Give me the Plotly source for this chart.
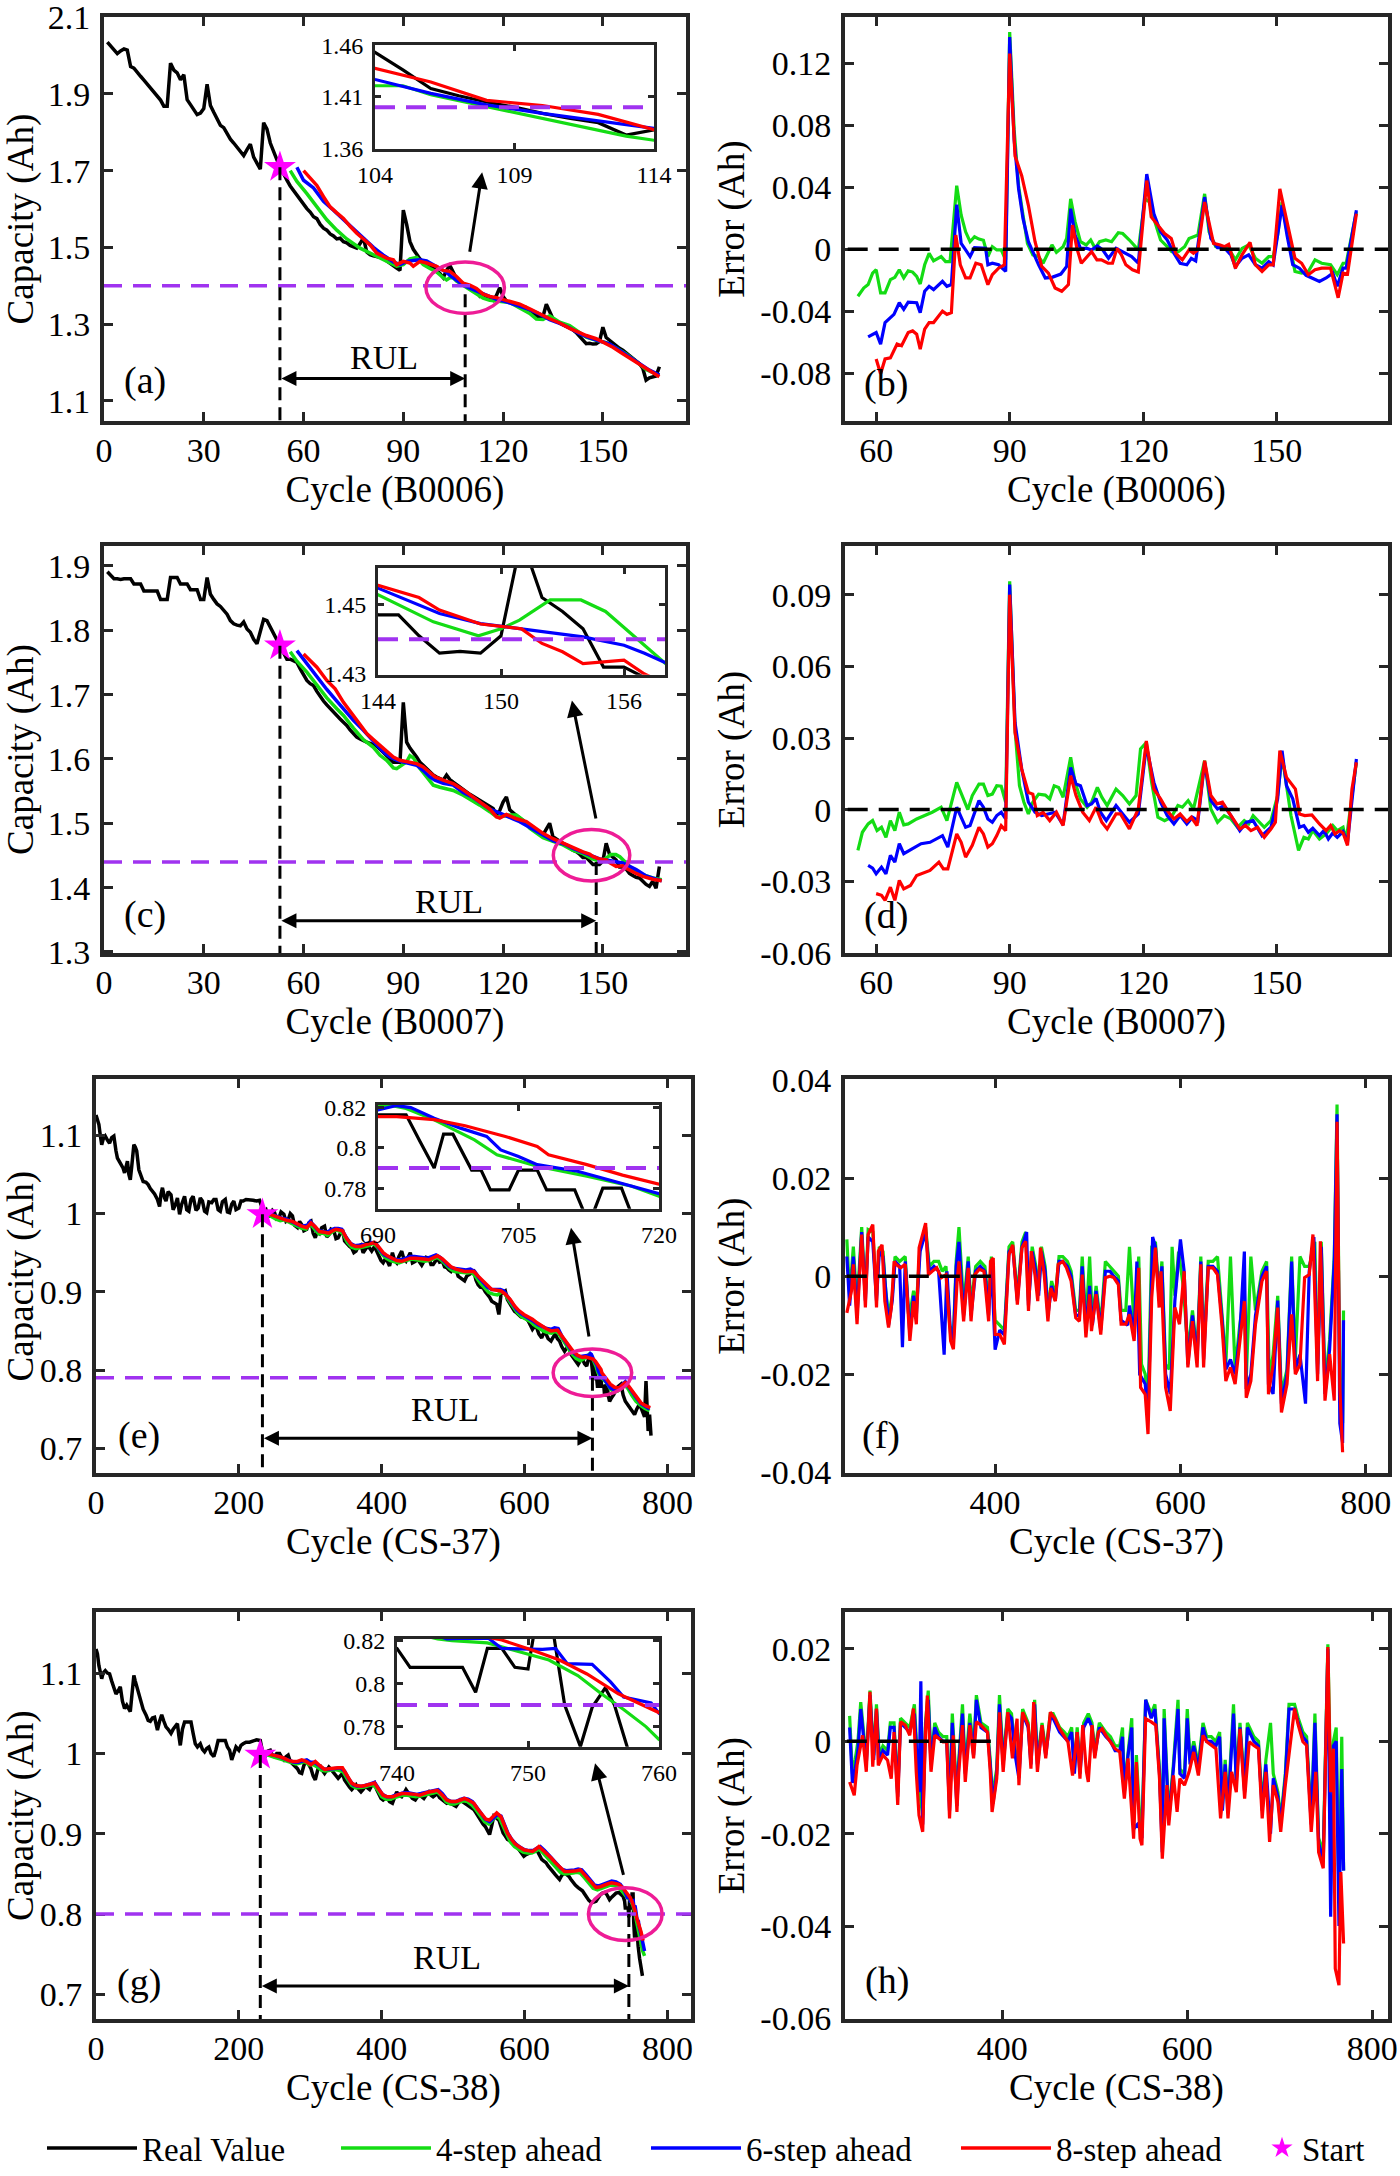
import plotly.graph_objects as go

FONT = "Liberation Serif"
C_REAL = "#000000"
C_G4 = "#14DC14"
C_B6 = "#0000FF"
C_R8 = "#FF0000"
C_STAR = "#FF00FF"
C_THR = "#A033F0"
C_ELL = "#EE1C96"
C_AX = "#262626"

# ---------------- B0006 (panel a / b) ----------------
A_REAL_X = list(range(1, 168))
A_REAL_Y = [2.035, 2.025, 2.018, 2.005, 2.012, 2.017, 2.014, 1.971, 1.967, 1.958,
            1.946, 1.936, 1.925, 1.915, 1.905, 1.895, 1.884, 1.868, 1.868, 1.980,
            1.962, 1.955, 1.937, 1.950, 1.885, 1.872, 1.860, 1.846, 1.850, 1.862,
            1.925, 1.870, 1.852, 1.835, 1.818, 1.812, 1.795, 1.782, 1.772, 1.762,
            1.750, 1.739, 1.755, 1.769, 1.735, 1.718, 1.704, 1.825, 1.808, 1.772,
            1.748, 1.728, 1.709, 1.690, 1.675, 1.660, 1.648, 1.636, 1.625, 1.610,
            1.601, 1.592, 1.580, 1.575, 1.560, 1.550, 1.545, 1.535, 1.530, 1.522,
            1.524, 1.515, 1.512, 1.505, 1.502, 1.498, 1.510, 1.525, 1.488, 1.481,
            1.478, 1.476, 1.474, 1.472, 1.465, 1.458, 1.452, 1.446, 1.440, 1.597,
            1.560, 1.515, 1.495, 1.481, 1.470, 1.460, 1.455, 1.450, 1.446, 1.440,
            1.432, 1.421, 1.440, 1.453, 1.436, 1.418, 1.411, 1.405, 1.400, 1.394,
            1.389, 1.385, 1.373, 1.378, 1.372, 1.365, 1.362, 1.375, 1.395, 1.372,
            1.360, 1.357, 1.355, 1.352, 1.348, 1.345, 1.343, 1.335, 1.328, 1.322,
            1.318, 1.320, 1.352, 1.335, 1.314, 1.308, 1.303, 1.298, 1.294, 1.292,
            1.285, 1.278, 1.268, 1.258, 1.249, 1.250, 1.248, 1.249, 1.255, 1.292,
            1.265, 1.258, 1.250, 1.243, 1.237, 1.232, 1.225, 1.216, 1.210, 1.203,
            1.197, 1.185, 1.154, 1.160, 1.163, 1.165, 1.189]
A_G4_X = [56, 58, 61, 64, 67, 70, 73, 77, 80, 83, 86, 88, 90, 92, 94, 96, 98, 100, 102, 103,
          104, 105, 106, 108, 110, 112, 113, 114, 116, 118, 120, 122, 125, 128, 130, 132, 134,
          137, 140, 143, 145, 148, 151, 154, 157, 160, 163, 166, 167]
A_G4_Y = [1.700, 1.672, 1.640, 1.605, 1.572, 1.545, 1.522, 1.498, 1.485, 1.471, 1.460, 1.451,
          1.455, 1.470, 1.474, 1.455, 1.445, 1.436, 1.421, 1.415, 1.4207, 1.4207, 1.412, 1.4006,
          1.3897, 1.378, 1.372, 1.368, 1.362, 1.3605, 1.358, 1.3562, 1.342, 1.328, 1.313, 1.312,
          1.3218, 1.305, 1.296, 1.278, 1.266, 1.258, 1.252, 1.238, 1.222, 1.203, 1.182, 1.170, 1.167]
A_B6_X = [58, 60, 63, 66, 69, 72, 75, 78, 81, 84, 87, 89, 91, 93, 95, 97, 99, 101, 103, 104,
          106, 108, 110, 112, 114, 116, 118, 121, 125, 128, 131, 134, 137, 140, 143, 146, 149,
          152, 155, 158, 161, 164, 167]
A_B6_Y = [1.7088, 1.675, 1.655, 1.620, 1.597, 1.572, 1.547, 1.522, 1.500, 1.480, 1.462, 1.4551,
          1.4637, 1.466, 1.468, 1.465, 1.455, 1.4465, 1.435, 1.4268, 1.4133, 1.4022, 1.394,
          1.3862, 1.378, 1.372, 1.3648, 1.358, 1.3476, 1.338, 1.3261, 1.312, 1.302, 1.290, 1.275,
          1.264, 1.256, 1.2487, 1.232, 1.2143, 1.196, 1.180, 1.167]
A_R8_X = [60, 62, 64, 66, 68, 70, 72, 74, 76, 78, 80, 82, 83, 85, 87, 88, 90, 92, 93, 95, 97,
          99, 100, 102, 104, 106, 108, 110, 112, 114, 116, 118, 121, 125, 128, 131, 134, 137,
          140, 143, 145, 148, 150, 153, 156, 159, 162, 165, 167]
A_R8_Y = [1.7002, 1.680, 1.6615, 1.632, 1.6056, 1.590, 1.5755, 1.555, 1.5368, 1.522, 1.5067,
          1.485, 1.481, 1.472, 1.468, 1.4551, 1.4637, 1.4594, 1.4508, 1.4637, 1.4594, 1.455,
          1.4508, 1.440, 1.4375, 1.4243, 1.4066, 1.4016, 1.393, 1.3783, 1.372, 1.3691, 1.362,
          1.3519, 1.340, 1.3261, 1.314, 1.303, 1.289, 1.278, 1.2703, 1.262, 1.253, 1.240, 1.223,
          1.206, 1.190, 1.172, 1.163]

B_G4_X = [55.9, 57.2, 58.2, 59.2, 60, 61, 62, 63.2, 64.2, 65.2, 66.2, 67.2, 68.2, 69.1, 69.9,
          70.9, 71.9, 72.9, 74.6, 75.6, 76.6, 78.1, 79.1, 80.1, 81.1, 82.1, 83.1, 84.1, 85.1,
          86.1, 87.1, 88.1, 89.1, 90, 91, 92, 93, 94, 95.2, 96.5, 97.5, 98.5, 99.5, 100.5, 102,
          102.8, 103.7, 104.7, 105.9, 107.2, 108.2, 109.2, 110.2, 111.6, 112.9, 114.4, 115.4,
          116.9, 118.9, 120.4, 121.4, 122.4, 123.9, 125.4, 126.4, 127.9, 129.3, 130.3, 131.3,
          132.3, 133.8, 134.8, 136.3, 137.8, 139.2, 140.7, 142.2, 143.7, 145.2, 146.7, 148.2,
          149.2, 150.2, 151.2, 152.2, 153.2, 154.1, 155.6, 157.1, 158.6, 160.1, 162.1, 163.6,
          164.9, 165.6, 167.9]
B_G4_Y = [-0.0303, -0.025, -0.0228, -0.0154, -0.0132, -0.0281, -0.0281, -0.0196, -0.0181,
          -0.0132, -0.0185, -0.0139, -0.0147, -0.0175, -0.0224, -0.01, -0.0026, -0.0075, -0.0047,
          -0.0079, -0.0079, 0.0411, 0.022, 0.0113, 0.0049, 0.0081, 0.0066, 0.0058, -0.0047,
          0.0017, -0.0004, -0.0004, -0.0068, 0.1403, 0.0774, 0.0411, 0.022, 0.0038, -0.0036,
          -0.0047, -0.009, -0.0036, 0.0028, -0.0019, 0.0017, 0.007, 0.0326, 0.0177, 0.0049,
          0.0028, 0.006, 0.0006, 0.0049, 0.006, 0.0049, 0.0107, 0.0102, 0.006, -0.0004, 0.0326,
          0.0305, 0.0198, 0.006, 0.0017, -0.0015, -0.0015, 0.0017, 0.007, 0.0081, 0.0092, 0.0358,
          0.0113, 0.0017, 0.0006, 0.0006, -0.0068, 0.0006, 0.0028, -0.0058, -0.009, -0.0047,
          -0.0047, 0.0092, 0.0305, 0.0134, -0.0015, -0.0143, -0.0154, -0.0143, -0.0068, -0.009,
          -0.01, -0.0164, -0.009, -0.009, 0.0241]
B_B6_X = [58.2, 60, 61, 62, 64, 65.2, 66.2, 67.2, 69.1, 69.9, 70.9, 71.9, 72.9, 74.9, 75.9, 76.9,
          78.1, 79.1, 80.1, 81.1, 82.1, 83.6, 84.6, 85.1, 86.1, 87.5, 89.1, 90, 91, 92, 93, 94.2,
          95.5, 96.5, 98, 99.5, 101.5, 102.8, 103.7, 104.7, 105.9, 107.4, 108.4, 109.7, 110.9,
          112.2, 113.9, 115.4, 117.4, 118.9, 120.8, 122.4, 123.9, 125.4, 126.9, 128.3, 129.8,
          130.8, 131.8, 133.8, 135.2, 136.7, 138.2, 139.7, 140.7, 142.2, 143.7, 145.2, 146.7,
          148.2, 149.2, 151.2, 152.3, 153.6, 155.1, 156.6, 158.1, 159.6, 161.1, 162.6, 163.6,
          164.9, 165.6, 167.9]
B_B6_Y = [-0.0565, -0.0537, -0.0612, -0.0473, -0.042, -0.0345, -0.0388, -0.0341, -0.0345,
          -0.0409, -0.0271, -0.0239, -0.026, -0.0207, -0.0239, -0.0228, 0.0288, 0.0038, -0.0004,
          -0.0047, 0.0011, 0.0011, 0.0006, -0.01, -0.009, -0.01, -0.0143, 0.1371, 0.071, 0.039,
          0.0198, 0.0049, -0.0036, -0.01, -0.0185, -0.0181, -0.016, -0.0111, 0.0262, 0.0092,
          0.0006, 0.0006, -0.0004, 0.0021, -0.0004, -0.0058, 0.0006, -0.0015, -0.0047, -0.009,
          0.0486, 0.023, 0.0113, 0.006, -0.0026, -0.009, -0.01, -0.0058, -0.0075, 0.0337, 0.007,
          0.0011, 0.0011, -0.0036, -0.0111, -0.0058, -0.0036, -0.01, -0.0122, -0.0079, -0.01,
          0.0284, 0.0092, -0.01, -0.0122, -0.0168, -0.0185, -0.0207, -0.0185, -0.0154, -0.0239,
          -0.0122, -0.0122, 0.0252]
B_R8_X = [60, 61, 62, 63.2, 64.7, 65.7, 67.2, 68.2, 69.1, 69.9, 70.9, 71.9, 72.9, 74.9, 75.9,
          76.9, 77.9, 78.9, 80.1, 81.1, 82.4, 83.6, 85.1, 86.1, 87.5, 88.8, 90, 91.2, 92.7, 94.2,
          95.7, 97.2, 98.7, 100.2, 101.7, 103.2, 104.1, 105.1, 106.1, 107.1, 108.4, 109.6, 110.6,
          112.1, 113.1, 114.1, 115.1, 116.1, 117.6, 118.9, 120.8, 121.8, 123.3, 124.8, 126.3,
          127.3, 128.8, 130.3, 131.3, 132.3, 133.8, 135.8, 137.3, 138.3, 139.2, 140.7, 142.2, 144,
          145.2, 146.7, 148.2, 149.2, 150.7, 152.2, 153.2, 154.1, 155.6, 157.1, 158.6, 160.1,
          162.1, 163.8, 164.9, 165.9, 167.9]
B_R8_Y = [-0.0708, -0.0804, -0.0708, -0.0701, -0.0612, -0.0623, -0.0537, -0.0527, -0.0548,
          -0.0644, -0.0516, -0.0473, -0.0473, -0.0399, -0.042, -0.0409, 0.0092, -0.01, -0.0185,
          -0.0185, -0.009, -0.01, -0.0228, -0.0164, -0.0122, -0.01, 0.1264, 0.0603, 0.0475,
          0.0284, 0.0049, -0.0111, -0.0154, -0.025, -0.0271, -0.0228, 0.0156, 0.0006, -0.009,
          -0.0058, -0.0015, -0.0068, -0.0068, -0.009, -0.009, 0.0006, -0.0036, -0.01, -0.0132,
          -0.0147, 0.0444, 0.0209, 0.0156, 0.0102, 0.007, -0.0026, -0.0068, -0.0004, -0.0026,
          -0.0004, 0.0305, 0.0038, 0.0028, 0.0017, 0.0032, -0.0122, -0.0036, 0.0045, -0.01,
          -0.0143, -0.01, -0.01, 0.039, 0.0188, 0.007, -0.0058, -0.009, -0.0164, -0.0132, -0.0122,
          -0.0122, -0.0313, -0.0154, -0.016, 0.023]

# ---------------- B0007 (panel c / d) ----------------
C_REAL_X = list(range(1, 168))
C_REAL_Y = [1.891, 1.885, 1.880, 1.880, 1.879, 1.880, 1.880, 1.880, 1.872, 1.872,
            1.872, 1.861, 1.861, 1.861, 1.861, 1.861, 1.848, 1.848, 1.848, 1.882,
            1.882, 1.882, 1.872, 1.872, 1.872, 1.863, 1.863, 1.863, 1.848, 1.848,
            1.882, 1.856, 1.848, 1.841, 1.837, 1.830, 1.825, 1.815, 1.810, 1.808,
            1.807, 1.813, 1.802, 1.797, 1.786, 1.779, 1.800, 1.817, 1.815, 1.805,
            1.794, 1.785, 1.774, 1.765, 1.755, 1.755, 1.752, 1.750, 1.740, 1.730,
            1.722, 1.717, 1.714, 1.705, 1.697, 1.690, 1.684, 1.678, 1.672, 1.668,
            1.662, 1.657, 1.652, 1.645, 1.640, 1.634, 1.631, 1.628, 1.626, 1.624,
            1.622, 1.620, 1.615, 1.610, 1.605, 1.600, 1.595, 1.595, 1.595, 1.688,
            1.626, 1.617, 1.611, 1.603, 1.595, 1.590, 1.585, 1.580, 1.575, 1.572,
            1.570, 1.567, 1.575, 1.568, 1.564, 1.560, 1.556, 1.552, 1.549, 1.545,
            1.542, 1.539, 1.536, 1.533, 1.530, 1.526, 1.523, 1.513, 1.520, 1.533,
            1.541, 1.521, 1.516, 1.512, 1.508, 1.504, 1.500, 1.496, 1.492, 1.489,
            1.485, 1.482, 1.490, 1.500, 1.479, 1.475, 1.472, 1.469, 1.466, 1.462,
            1.458, 1.456, 1.452, 1.447, 1.447, 1.441, 1.436, 1.4365, 1.436, 1.441,
            1.469, 1.452, 1.448, 1.443, 1.432, 1.432, 1.429, 1.422, 1.419, 1.416,
            1.415, 1.410, 1.405, 1.402, 1.410, 1.399, 1.433]
C_G4_X = [56, 58, 61, 64, 67, 70, 72, 75, 78, 81, 83, 85, 87, 88, 89, 91, 92, 93, 95, 97, 99,
          101, 103, 105, 108, 111, 113, 116, 118, 120, 122, 124, 126, 128, 130, 132, 135, 138,
          141, 144, 146.7, 148.9, 150, 150.9, 152.4, 153.9, 155.1, 156.9, 159, 162, 165, 167.7]
C_G4_Y = [1.7668, 1.752, 1.735, 1.7141, 1.695, 1.678, 1.6677, 1.648, 1.630, 1.618, 1.6057,
          1.598, 1.586, 1.585, 1.589, 1.5954, 1.605, 1.602, 1.585, 1.572, 1.5593, 1.556, 1.5541,
          1.551, 1.5437, 1.535, 1.5282, 1.518, 1.5102, 1.511, 1.5128, 1.5128, 1.505, 1.4922,
          1.485, 1.4777, 1.472, 1.4664, 1.458, 1.4528, 1.445, 1.441, 1.443, 1.4455, 1.4513,
          1.4513, 1.448, 1.4388, 1.428, 1.420, 1.415, 1.4122]
C_B6_X = [58, 61, 64, 67, 70, 72, 75, 78, 81, 84, 86, 88, 90, 92, 94, 96, 98, 99.5, 102, 105,
          108, 111, 114, 116, 118, 121, 123, 125, 128, 130, 132, 135, 139, 141, 144, 147, 149, 151,
          154, 156, 157, 160, 163, 166, 167.7]
C_B6_Y = [1.7684, 1.748, 1.7296, 1.708, 1.690, 1.678, 1.660, 1.6444, 1.628, 1.6109, 1.603,
          1.598, 1.595, 1.592, 1.5903, 1.582, 1.572, 1.567, 1.562, 1.5593, 1.548, 1.540, 1.530,
          1.522, 1.518, 1.512, 1.507, 1.5025, 1.493, 1.487, 1.4818, 1.473, 1.4664, 1.461, 1.4547,
          1.4474, 1.4445, 1.443, 1.4407, 1.4383, 1.436, 1.428, 1.418, 1.413, 1.4106]
C_R8_X = [60, 62, 64, 67, 69.5, 72, 75, 77, 79, 81, 83, 85, 87, 89, 91, 93, 94, 96, 98, 99.5,
          102, 105, 108, 111, 114, 116, 118, 119, 121, 124, 127, 130, 132, 135, 139, 142, 144, 146,
          147, 149, 151, 152, 153, 154, 156, 157, 160, 162, 165, 167.7]
C_R8_Y = [1.7632, 1.752, 1.7425, 1.722, 1.709, 1.688, 1.6677, 1.652, 1.6393, 1.630, 1.6212,
          1.612, 1.603, 1.598, 1.5954, 1.594, 1.5928, 1.5877, 1.578, 1.5722, 1.567, 1.5618, 1.552,
          1.5412, 1.530, 1.522, 1.5102, 1.508, 1.5138, 1.507, 1.5025, 1.492, 1.4844, 1.476,
          1.4664, 1.459, 1.4555, 1.452, 1.4484, 1.4444, 1.443, 1.4388, 1.4364, 1.433, 1.434,
          1.430, 1.422, 1.4174, 1.413, 1.4106]

D_G4_X = [55.9, 56.9, 58.2, 59.2, 60.2, 61.2, 62.2, 63.2, 64.2, 65.2, 66.2, 67.2, 69.1, 71.1,
          72.6, 74.6, 75.9, 78.1, 79.6, 80.6, 81.6, 83.1, 84.1, 85.1, 86.1, 87.1, 88.1, 89.1, 90,
          91.2, 92.2, 93.2, 94.2, 95.2, 96.5, 98, 99, 100, 101, 102, 103.7, 104.7, 105.9, 107.4,
          108.4, 109.7, 110.7, 111.9, 113.9, 115.4, 116.9, 118.4, 119.4, 120.7, 121.9, 123.3,
          124.8, 126.3, 127.8, 128.8, 130.1, 131.3, 133.8, 135.2, 136.7, 138.2, 139.7, 141.2,
          142.7, 143.7, 144.7, 145.7, 147.2, 148.7, 150.2, 151.2, 153.2, 154.9, 156.1, 157.1,
          158.1, 159.6, 161.1, 162.6, 163.6, 164.9, 165.6, 167.9]
D_G4_Y = [-0.0171, -0.0095, -0.006, -0.0046, -0.0088, -0.0074, -0.0116, -0.0046, -0.0088,
          -0.0011, -0.0064, -0.006, -0.0039, -0.0022, -0.0011, 0.001, -0.0046, 0.0114, 0.0045,
          0.0, 0.0059, 0.0107, 0.0107, 0.0059, 0.0065, 0.01, 0.0098, 0.0031, 0.0957, 0.0337, 0.01,
          0.0031, -0.0018, 0.0031, 0.0065, 0.0061, 0.0045, 0.01, 0.0093, 0.0052, 0.0219, 0.0114,
          0.0045, 0.001, 0.0031, 0.0093, 0.0052, 0.0017, 0.0086, 0.0059, 0.0024, 0.0059, 0.0254,
          0.0281, 0.0114, -0.0032, -0.0046, -0.0032, 0.0017, 0.001, 0.0038, 0.0003, 0.0205,
          0.0003, -0.0053, -0.0025, -0.0039, -0.0074, -0.0046, -0.006, -0.0025, -0.0046, -0.0074,
          -0.0046, 0.0059, 0.0226, -0.0025, -0.0171, -0.0116, -0.0123, -0.0088, -0.0123, -0.0102,
          -0.0067, -0.0088, -0.0074, -0.013, 0.0198]
D_B6_X = [58.2, 59.2, 60, 61.2, 62.2, 63.2, 64.2, 65.2, 66.2, 68.2, 70.1, 72.1, 73.6, 74.9,
          76.1, 78.1, 80.1, 81.1, 83.1, 84.1, 85.1, 86.1, 87.1, 88.1, 89.1, 90, 91.2, 92.7, 94.2,
          95.7, 97.2, 98.7, 100.2, 102, 103.7, 104.9, 105.9, 107.4, 108.4, 109.4, 110.4, 111.7,
          113.9, 115.4, 116.9, 118.9, 120.7, 122.4, 123.9, 125.4, 126.9, 128.3, 129.8, 131.1,
          132.3, 133.8, 135.2, 136.7, 138.2, 139.7, 141.7, 143.2, 144.7, 146.7, 148.7, 150.2,
          151.2, 152.2, 153.6, 155.1, 156.1, 157.1, 158.1, 159.6, 160.6, 161.6, 162.6, 163.6,
          164.9, 165.9, 167.9]
D_B6_Y = [-0.0234, -0.0245, -0.0269, -0.0241, -0.0269, -0.0192, -0.022, -0.0143, -0.0185,
          -0.0164, -0.0143, -0.0137, -0.0123, -0.0109, -0.0157, 0.001, -0.0074, -0.0067, 0.0038,
          0.001, -0.0039, -0.0053, -0.0025, -0.0011, -0.0039, 0.0943, 0.0365, 0.017, 0.0031,
          -0.0011, -0.0025, -0.0018, -0.0011, -0.0064, 0.0177, 0.0107, 0.01, 0.0017, 0.0024,
          0.0047, -0.0011, -0.0046, 0.0017, -0.0018, -0.0053, -0.0018, 0.0267, 0.0114, 0.0031,
          -0.0025, -0.006, -0.0025, -0.006, -0.0032, -0.0046, 0.0198, 0.0038, 0.0003, 0.0017,
          -0.0025, -0.0088, -0.0053, -0.0046, -0.0109, -0.0074, 0.0045, 0.0247, 0.01, 0.0045,
          -0.0074, -0.0067, -0.0095, -0.0078, -0.0109, -0.0088, -0.0123, -0.0098, -0.0116,
          -0.0092, -0.0137, 0.0212]
D_R8_X = [60, 61.2, 62, 63.2, 64.2, 65.2, 66.2, 67.7, 69.1, 70.6, 72.1, 74.1, 75.1, 76.1, 78.1,
          79.1, 80.1, 81.6, 83.1, 84.1, 85.1, 86.1, 87.1, 88.1, 89.1, 90, 91.2, 92.7, 94.2, 95.2,
          96.2, 97.5, 99, 100.5, 102, 103.7, 104.9, 106.4, 107.9, 109.4, 110.7, 111.9, 113.9,
          114.9, 115.9, 116.9, 118.9, 120.7, 122.4, 123.9, 125.4, 126.9, 128.3, 129.8, 130.8,
          132.1, 133.8, 135.2, 136.6, 137.8, 139.2, 141.7, 143, 144.2, 145.7, 147.2, 148.7, 149.7,
          150.7, 152.2, 154.2, 155.1, 156.3, 157.9, 159.6, 161.1, 162.1, 163.1, 164.1, 164.9,
          165.9, 166.9, 167.9]
D_R8_Y = [-0.0352, -0.0359, -0.038, -0.0325, -0.038, -0.0297, -0.0332, -0.0318, -0.0276,
          -0.0265, -0.0255, -0.022, -0.0248, -0.0248, -0.0102, -0.0137, -0.0199, -0.015, -0.0074,
          -0.0102, -0.0157, -0.0143, -0.0109, -0.0067, -0.0088, 0.0901, 0.0323, 0.017, 0.0072,
          0.0065, -0.0025, -0.0011, -0.0046, -0.0011, -0.0067, 0.0142, 0.0059, -0.0011, -0.0046,
          0.001, -0.0053, -0.0081, -0.0018, -0.0018, -0.0053, -0.0081, 0.0003, 0.0288, 0.0086,
          0.0045, -0.0004, -0.0039, -0.0018, -0.005, -0.0032, -0.0067, 0.0205, 0.0059, 0.0024,
          0.0031, -0.0011, -0.0081, -0.0067, -0.0088, -0.0074, -0.0116, -0.0081, -0.0053, 0.0247,
          0.0135, 0.0086, -0.0018, -0.0025, -0.0022, -0.006, -0.0088, -0.0067, -0.0102, -0.0088,
          -0.0098, -0.015, 0.0086, 0.0198]

# ---------------- CS-37 (panel e / f) ----------------
E_REAL_X = [0, 2, 4, 6, 8, 10, 13, 16, 19, 22, 25, 28, 30, 33, 35, 38, 40, 42, 44, 46, 48, 50,
            53, 55, 57, 60, 63, 66, 70, 73, 76, 79, 82, 86, 89, 91, 93, 96, 98, 101, 105, 108,
            111, 114, 117, 120, 124, 127, 130, 133, 136, 140, 143, 146, 149, 152, 155, 158, 162,
            165, 168, 171, 174, 177, 181, 184, 187, 190, 193, 196, 200, 203, 206, 210, 215, 220,
            225, 229, 232, 235, 238, 241, 244, 247, 250, 253, 256, 259, 263, 266, 269, 272, 275,
            278, 282, 285, 288, 291, 295, 298, 301, 304, 307, 310, 313, 316, 320, 323, 326, 329,
            333, 336, 339, 342, 345, 348, 352, 355, 358, 361, 364, 367, 371, 374, 377, 380, 383,
            386, 390, 393, 396, 399, 402, 405, 408, 411, 415, 418, 421, 424, 428, 431, 434, 437,
            440, 443, 447, 450, 453, 456, 459, 462, 466, 469, 472, 475, 478, 481, 485, 488, 491,
            494, 497, 500, 504, 507, 510, 513, 516, 519, 523, 526, 529, 532, 535, 538, 542, 545,
            548, 551, 554, 557, 561, 564, 567, 570, 573, 576, 580, 583, 586, 589, 592, 595, 599,
            602, 605, 608, 611, 614, 617, 620, 624, 627, 630, 633, 637, 640, 643, 646, 649, 652,
            656, 659, 662, 665, 668, 671, 675, 678, 681, 684, 687, 690, 693, 694.5, 696, 697, 698,
            700, 701, 702, 704, 705, 707, 708, 711, 712, 713, 714, 716, 717, 719, 722, 725, 728,
            731, 735, 738, 741, 744, 747, 750, 754, 757, 760, 763, 766, 768, 770, 771, 773, 775,
            777]
E_REAL_Y = [1.126, 1.120, 1.114, 1.100, 1.088, 1.095, 1.099, 1.094, 1.090, 1.097, 1.099, 1.080,
            1.071, 1.066, 1.063, 1.058, 1.052, 1.060, 1.067, 1.050, 1.043, 1.060, 1.088, 1.085,
            1.080, 1.056, 1.048, 1.041, 1.040, 1.037, 1.032, 1.029, 1.025, 1.018, 1.009, 1.025,
            1.033, 1.020, 1.016, 1.028, 1.024, 1.005, 1.011, 1.020, 0.999, 1.012, 1.022, 1.005,
            1.003, 1.018, 1.022, 1.004, 1.007, 1.020, 1.016, 1.003, 1.001, 1.015, 1.014, 1.018,
            1.018, 1.005, 1.003, 1.015, 1.018, 1.002, 1.001, 1.012, 1.016, 1.005, 1.007, 1.016,
            1.016, 1.018, 1.018, 1.017, 1.016, 1.017, 1.009, 1.003, 1.005, 0.996, 0.999, 1.004,
            1.001, 0.993, 0.994, 1.002, 0.999, 0.990, 0.992, 1.000, 0.997, 0.985, 0.982, 0.990,
            0.986, 0.978, 0.980, 0.988, 0.990, 0.975, 0.969, 0.978, 0.975, 0.982, 0.984, 0.970,
            0.973, 0.980, 0.978, 0.968, 0.969, 0.975, 0.980, 0.965, 0.960, 0.958, 0.956, 0.950,
            0.952, 0.958, 0.960, 0.950, 0.954, 0.958, 0.956, 0.952, 0.958, 0.952, 0.948, 0.940,
            0.937, 0.942, 0.939, 0.933, 0.950, 0.940, 0.937, 0.945, 0.952, 0.942, 0.939, 0.944,
            0.950, 0.937, 0.939, 0.942, 0.937, 0.934, 0.939, 0.944, 0.943, 0.935, 0.935, 0.940,
            0.943, 0.938, 0.939, 0.932, 0.931, 0.928, 0.926, 0.930, 0.929, 0.920, 0.918, 0.916,
            0.914, 0.920, 0.922, 0.924, 0.926, 0.915, 0.909, 0.906, 0.905, 0.900, 0.897, 0.893,
            0.888, 0.886, 0.884, 0.871, 0.897, 0.899, 0.901, 0.890, 0.884, 0.880, 0.875, 0.873,
            0.871, 0.868, 0.867, 0.866, 0.863, 0.858, 0.852, 0.856, 0.854, 0.846, 0.841, 0.848,
            0.846, 0.840, 0.837, 0.842, 0.846, 0.840, 0.837, 0.830, 0.824, 0.828, 0.829, 0.820,
            0.816, 0.812, 0.807, 0.812, 0.814, 0.808, 0.805, 0.8164, 0.8164, 0.803, 0.790, 0.8068,
            0.8068, 0.789, 0.789, 0.7792, 0.7792, 0.789, 0.789, 0.7792, 0.7792, 0.768, 0.768,
            0.780, 0.780, 0.768, 0.760, 0.765, 0.769, 0.775, 0.779, 0.782, 0.768, 0.760, 0.756,
            0.752, 0.748, 0.743, 0.750, 0.755, 0.752, 0.745, 0.740, 0.786, 0.760, 0.722, 0.743,
            0.716]
E_G4_X = [234, 240, 246, 252, 258, 264, 270, 276, 282, 288, 294, 300, 306, 312, 318, 324, 330,
          335, 340, 346, 352, 358, 364, 370, 376, 382, 388, 394, 400, 406, 412, 418, 424, 430,
          436, 442, 448, 454, 460, 466, 472, 478, 484, 490, 496, 502, 508, 514, 520, 526, 532,
          538, 544, 550, 556, 562, 568, 572, 578, 584, 590, 596, 602, 608, 614, 620, 626, 632,
          638, 643, 648, 654, 660, 666, 672, 678, 684, 690, 691.5, 693, 696, 700.3, 702.7, 707,
          712.3, 717.1, 720, 725, 730, 735, 740, 745, 750, 756, 762, 768, 775]
E_G4_Y = [1.001, 0.999, 0.996, 0.993, 0.991, 0.992, 0.989, 0.986, 0.983, 0.981, 0.980, 0.987,
          0.980, 0.974, 0.975, 0.972, 0.976, 0.979, 0.978, 0.974, 0.963, 0.957, 0.955, 0.956,
          0.958, 0.959, 0.962, 0.957, 0.948, 0.943, 0.940, 0.938, 0.937, 0.939, 0.941, 0.942,
          0.941, 0.940, 0.939, 0.940, 0.942, 0.944, 0.940, 0.934, 0.929, 0.926, 0.925, 0.924,
          0.924, 0.925, 0.919, 0.911, 0.905, 0.899, 0.897, 0.896, 0.900, 0.898, 0.889, 0.880,
          0.873, 0.868, 0.865, 0.862, 0.857, 0.853, 0.850, 0.848, 0.847, 0.850, 0.846, 0.838,
          0.829, 0.821, 0.815, 0.812, 0.815, 0.8205, 0.8209, 0.8196, 0.8139, 0.804, 0.7966,
          0.7909, 0.786, 0.781, 0.776, 0.772, 0.773, 0.778, 0.781, 0.776, 0.768, 0.760, 0.755,
          0.751, 0.748]
E_B6_X = [236, 242, 248, 254, 260, 266, 272, 278, 284, 290, 296, 300, 305, 311, 317, 323, 329,
          334, 339, 344, 350, 356, 362, 368, 374, 380, 386, 392, 398, 404, 410, 416, 422, 428,
          434, 440, 446, 452, 458, 464, 470, 476, 482, 488, 494, 500, 506, 512, 518, 524, 530,
          536, 542, 548, 554, 560, 566, 571, 577, 583, 589, 595, 601, 607, 613, 619, 625, 631,
          637, 642, 647, 653, 659, 665, 671, 677, 683, 690, 692, 693.5, 696, 698.8, 701.6, 703.1,
          705, 707, 711.3, 713.2, 716.1, 720, 725, 731, 736, 741, 746, 751, 757, 763, 769, 775]
E_B6_Y = [1.002, 1.000, 0.997, 0.995, 0.994, 0.993, 0.991, 0.988, 0.985, 0.984, 0.985, 0.990,
          0.985, 0.978, 0.977, 0.976, 0.979, 0.981, 0.981, 0.980, 0.970, 0.962, 0.959, 0.959,
          0.960, 0.962, 0.963, 0.962, 0.953, 0.947, 0.944, 0.942, 0.941, 0.941, 0.943, 0.945,
          0.945, 0.944, 0.943, 0.943, 0.945, 0.947, 0.944, 0.939, 0.933, 0.930, 0.929, 0.928,
          0.928, 0.929, 0.926, 0.918, 0.912, 0.906, 0.903, 0.903, 0.903, 0.901, 0.893, 0.885,
          0.877, 0.872, 0.869, 0.866, 0.862, 0.858, 0.855, 0.853, 0.852, 0.854, 0.853, 0.842,
          0.834, 0.826, 0.820, 0.817, 0.818, 0.8188, 0.821, 0.820, 0.8147, 0.8098, 0.8057, 0.799,
          0.7957, 0.7917, 0.7884, 0.786, 0.7825, 0.7773, 0.775, 0.776, 0.781, 0.785, 0.778, 0.771,
          0.764, 0.757, 0.753, 0.750]
E_R8_X = [238, 244, 250, 256, 262, 268, 275, 281, 288, 295, 301, 307, 313, 320, 326, 331, 336,
          341, 345, 351, 358, 364, 371, 377, 383, 390, 396, 402, 408, 415, 421, 428, 434, 440,
          447, 453, 459, 466, 472, 478, 485, 491, 497, 504, 510, 516, 523, 529, 535, 542, 548,
          554, 561, 567, 573, 580, 586, 592, 599, 605, 611, 618, 624, 630, 637, 642, 646, 651,
          656, 662, 668, 674, 681, 685, 690, 692, 696, 699.3, 703.6, 707, 708.2, 712.3, 716.1,
          720, 726, 732, 737, 741, 746, 751, 757, 763, 770, 776]
E_R8_Y = [1.001, 0.999, 0.997, 0.994, 0.993, 0.991, 0.990, 0.987, 0.984, 0.982, 0.988, 0.983,
          0.977, 0.976, 0.975, 0.978, 0.980, 0.979, 0.978, 0.968, 0.960, 0.958, 0.958, 0.960,
          0.961, 0.963, 0.957, 0.950, 0.946, 0.943, 0.940, 0.939, 0.941, 0.943, 0.943, 0.943,
          0.942, 0.941, 0.943, 0.946, 0.942, 0.937, 0.932, 0.929, 0.927, 0.926, 0.926, 0.926,
          0.920, 0.914, 0.908, 0.903, 0.902, 0.901, 0.897, 0.890, 0.882, 0.876, 0.871, 0.868,
          0.865, 0.860, 0.856, 0.853, 0.850, 0.851, 0.851, 0.845, 0.839, 0.831, 0.824, 0.819,
          0.816, 0.817, 0.8155, 0.8155, 0.814, 0.811, 0.8057, 0.8007, 0.7966, 0.7917, 0.7865,
          0.782, 0.778, 0.777, 0.781, 0.784, 0.779, 0.773, 0.766, 0.758, 0.754, 0.752]

F_G4_X = [240, 243, 247, 251, 256, 260, 263, 268, 272, 275, 279, 282, 285, 289, 292, 297, 303,
          307, 312, 315, 319, 325, 329, 334, 339, 343, 347, 351, 355, 358, 361, 366, 371, 374,
          379, 384, 389, 393, 396, 400, 405, 410, 415, 419, 424, 429, 433, 436, 440, 444, 447,
          450, 454, 457, 461, 465, 469, 473, 478, 482, 487, 491, 494, 498, 502, 505, 509, 514,
          519, 524, 528, 533, 536, 541, 545, 550, 555, 558, 562, 565, 569, 573, 577, 580, 584,
          588, 591, 594, 598, 603, 608, 613, 618, 622, 625, 630, 635, 640, 645, 649, 654, 659,
          664, 669, 671, 676, 681, 688, 693, 696, 700, 705, 709, 715, 720, 724, 729, 734, 739,
          745, 748, 752, 756, 761, 766, 769, 772, 775, 776]
F_G4_Y = [0.0075, -0.004, 0.006, -0.006, 0.010, -0.004, 0.0095, 0.009, -0.004, 0.006, 0.005,
          -0.003, -0.008, -0.004, 0.004, 0.003, 0.004, -0.009, -0.003, -0.006, 0.006, 0.010,
          0.002, 0.003, 0.003, 0.001, 0.002, -0.010, -0.012, 0.003, 0.010, -0.006, 0.004, -0.006,
          0.002, 0.003, 0.002, -0.006, 0.004, -0.009, -0.010, -0.011, 0.006, 0.007, -0.004,
          0.007, 0.009, -0.005, 0.006, 0.002, -0.003, 0.006, 0.002, -0.007, -0.001, -0.004,
          0.004, 0.004, 0.003, 0.001, -0.007, -0.007, 0.004, -0.010, 0.004, -0.009, -0.002,
          -0.010, 0.003, 0.002, 0.001, 0.0, -0.007, -0.007, 0.006, -0.010, 0.004, -0.018, -0.020,
          -0.026, 0.006, 0.007, -0.004, 0.003, -0.018, -0.019, 0.006, -0.004, 0.005, -0.002,
          -0.015, -0.007, -0.016, 0.004, -0.015, 0.003, 0.003, 0.004, -0.008, -0.018, 0.004,
          -0.019, -0.010, -0.003, -0.021, 0.004, -0.007, 0.001, 0.003, -0.021, -0.016, -0.004,
          -0.024, -0.019, 0.004, -0.017, 0.004, 0.002, 0.002, 0.007, -0.018, 0.007, -0.022,
          -0.013, 0.004, 0.035, -0.022, -0.030, -0.007]
F_B6_X = [240, 243, 247, 251, 256, 260, 263, 268, 272, 275, 279, 282, 285, 289, 292, 297, 300,
          303, 308, 312, 315, 319, 325, 329, 334, 339, 345, 348, 352, 355, 358, 361, 366, 371,
          374, 379, 384, 389, 393, 396, 400, 405, 410, 415, 419, 424, 429, 434, 436, 440, 444,
          447, 450, 454, 457, 461, 465, 469, 473, 478, 482, 487, 491, 494, 498, 502, 505, 509,
          514, 519, 524, 528, 533, 536, 543, 545, 550, 553, 556, 562, 565, 570, 573, 577, 580,
          584, 589, 594, 600, 604, 608, 613, 618, 622, 625, 630, 635, 640, 645, 649, 654, 659,
          664, 669, 671, 676, 681, 688, 693, 695, 700, 705, 709, 715, 720, 724, 729, 735, 739,
          744, 748, 752, 756, 761, 766, 769, 772, 775, 776]
F_B6_Y = [0.004, -0.006, 0.004, -0.008, 0.009, -0.005, 0.008, 0.007, -0.005, 0.005, 0.004,
          -0.004, -0.010, -0.005, 0.003, 0.002, -0.0145, 0.003, -0.012, -0.004, -0.008, 0.005,
          0.009, 0.001, 0.002, 0.001, -0.016, 0.001, -0.012, -0.013, 0.002, 0.007, -0.008, 0.003,
          -0.008, 0.001, 0.002, 0.001, -0.008, 0.003, -0.015, -0.011, -0.012, 0.005, 0.006,
          -0.005, 0.006, 0.009, -0.006, 0.005, 0.001, -0.004, 0.005, 0.001, -0.008, -0.002,
          -0.005, 0.003, 0.003, 0.002, 0.0, -0.008, -0.008, 0.002, -0.011, -0.002, -0.010,
          -0.003, -0.011, 0.001, 0.001, 0.0, -0.001, -0.009, -0.010, -0.006, -0.012, 0.003,
          -0.020, -0.022, -0.029, 0.008, 0.006, -0.005, 0.002, -0.020, -0.024, -0.005, 0.0075,
          0.001, -0.018, -0.008, -0.017, 0.003, -0.017, 0.002, 0.002, 0.001, -0.009, -0.019,
          -0.017, -0.020, -0.012, 0.005, -0.023, -0.020, -0.008, 0.0, 0.002, -0.022, -0.024,
          -0.005, -0.026, -0.020, 0.003, -0.019, -0.016, -0.026, 0.001, 0.008, -0.020, 0.006,
          -0.024, -0.015, 0.003, 0.033, -0.030, -0.034, -0.009]
F_R8_X = [240, 245, 247, 251, 256, 260, 263, 268, 272, 274, 278, 281, 285, 288, 291, 293, 298,
          303, 308, 312, 315, 318, 325, 328, 332, 337, 342, 347, 352, 355, 359, 361, 366, 371,
          374, 378, 383, 388, 393, 395, 398, 400, 405, 410, 415, 419, 424, 429, 433, 436, 439,
          443, 446, 449, 453, 457, 460, 465, 468, 473, 477, 482, 487, 491, 494, 498, 502, 504,
          509, 514, 519, 524, 528, 533, 536, 541, 545, 550, 555, 557, 562, 565, 569, 573, 577,
          579, 584, 589, 594, 599, 604, 608, 613, 618, 622, 625, 630, 635, 640, 645, 649, 654,
          659, 664, 669, 671, 676, 681, 688, 693, 695, 700, 705, 709, 715, 720, 724, 729, 734,
          739, 743, 748, 751, 756, 761, 766, 769, 772, 775]
F_R8_Y = [-0.0075, -0.003, 0.0024, -0.0098, 0.0085, -0.0064, 0.0085, 0.0105, -0.0064, 0.0051,
          0.0064, -0.0051, -0.0105, -0.0064, 0.003, 0.0024, 0.0017, 0.0024, -0.0132, -0.0051,
          -0.0098, 0.0058, 0.0108, 0.0003, 0.001, 0.0017, -0.0003, 0.0003, -0.0132, -0.0149,
          -0.001, 0.003, -0.0092, 0.0017, -0.0092, 0.0003, 0.0014, 0.001, -0.0092, 0.003, 0.0037,
          -0.0119, -0.0119, -0.0139, 0.0044, 0.0064, -0.0058, 0.0058, 0.0071, -0.0071, 0.0051,
          0.0003, -0.0051, 0.0058, 0.0003, -0.0092, -0.0024, -0.0051, 0.0024, 0.003, 0.0017,
          -0.001, -0.0085, -0.0092, 0.0003, -0.0125, -0.0037, -0.0112, -0.0037, -0.0119, -0.0003,
          0.0, -0.0003, -0.0017, -0.0098, -0.0098, -0.0078, -0.0132, 0.0017, -0.0227, -0.0241,
          -0.0322, -0.0044, 0.0058, -0.0064, 0.001, -0.0227, -0.0275, -0.0064, -0.0098, 0.001,
          -0.0186, -0.0092, -0.0186, 0.0024, -0.0186, 0.0017, 0.0017, 0.0003, -0.0105, -0.0214,
          -0.0186, -0.022, -0.0132, -0.0051, -0.0248, -0.0214, -0.0098, -0.001, 0.001, -0.0241,
          -0.018, -0.0064, -0.0278, -0.022, -0.0078, -0.02, -0.018, -0.0003, 0.0003, 0.0085,
          -0.0214, 0.0071, -0.0254, -0.0159, -0.0254, 0.0315, -0.0227, -0.0359]

# ---------------- CS-38 (panel g / h) ----------------
G_REAL_X = [0, 2, 4, 6, 8, 10, 13, 16, 19, 22, 25, 28, 31, 34, 37, 40, 43, 46, 48, 50, 53, 55,
            57, 60, 63, 66, 70, 73, 76, 79, 82, 84, 86, 89, 92, 95, 98, 101, 105, 108, 111, 114,
            116, 118, 121, 124, 127, 130, 133, 136, 139, 142, 146, 149, 152, 155, 158, 161, 165,
            168, 171, 174, 177, 181, 184, 187, 190, 193, 196, 200, 203, 206, 210, 215, 220, 225,
            230, 233, 236, 238, 241, 244, 247, 250, 253, 257, 260, 263, 266, 269, 272, 276, 279,
            282, 285, 288, 291, 295, 298, 301, 304, 307, 310, 313, 316, 320, 323, 326, 329, 333,
            336, 339, 342, 345, 348, 352, 355, 358, 361, 364, 367, 371, 374, 377, 380, 383, 386,
            390, 393, 396, 399, 402, 405, 408, 411, 415, 418, 421, 424, 428, 431, 434, 437, 440,
            443, 447, 450, 453, 456, 459, 462, 466, 469, 472, 475, 478, 481, 485, 488, 491, 494,
            497, 500, 504, 507, 510, 513, 516, 519, 523, 526, 529, 532, 535, 539, 542, 545, 548,
            551, 554, 557, 560, 564, 567, 570, 573, 576, 580, 583, 586, 589, 592, 595, 599, 602,
            605, 608, 611, 614, 617, 620, 624, 627, 630, 633, 637, 640, 643, 646, 649, 652, 656,
            659, 662, 665, 668, 671, 675, 678, 681, 684, 687, 690, 694, 697, 700, 703, 706, 709,
            713, 716, 719, 722, 725, 728, 732, 735, 738, 740, 741, 745, 746, 746.9, 748, 749, 750,
            750.5, 751.9, 752.8, 754, 754.9, 755.9, 756.6, 757.6, 759, 761, 763, 765]
G_REAL_Y = [1.130, 1.124, 1.1095, 1.100, 1.093, 1.100, 1.103, 1.100, 1.099, 1.090, 1.080, 1.074,
            1.078, 1.083, 1.065, 1.056, 1.060, 1.055, 1.052, 1.070, 1.097, 1.090, 1.083, 1.072,
            1.062, 1.055, 1.048, 1.041, 1.040, 1.044, 1.045, 1.035, 1.029, 1.040, 1.048, 1.040,
            1.033, 1.030, 1.025, 1.030, 1.033, 1.037, 1.022, 1.010, 1.030, 1.039, 1.039, 1.039,
            1.039, 1.025, 1.012, 1.008, 1.012, 1.005, 1.002, 1.006, 1.008, 1.000, 0.996, 1.005,
            1.016, 1.016, 1.016, 1.016, 1.008, 1.004, 0.992, 1.000, 1.008, 1.004, 1.010, 1.012,
            1.014, 1.014, 1.016, 1.017, 1.016, 1.003, 1.000, 0.998, 1.003, 1.004, 0.997, 0.996,
            1.000, 1.000, 0.995, 0.992, 0.996, 0.998, 0.990, 0.986, 0.984, 0.981, 0.976, 0.975,
            0.985, 0.992, 0.986, 0.981, 0.972, 0.967, 0.978, 0.986, 0.980, 0.975, 0.979, 0.983,
            0.980, 0.975, 0.972, 0.969, 0.972, 0.975, 0.967, 0.961, 0.958, 0.955, 0.958, 0.961,
            0.956, 0.952, 0.955, 0.959, 0.957, 0.955, 0.960, 0.963, 0.955, 0.948, 0.944, 0.942,
            0.944, 0.944, 0.940, 0.938, 0.945, 0.952, 0.948, 0.946, 0.950, 0.955, 0.951, 0.948,
            0.944, 0.942, 0.946, 0.948, 0.946, 0.944, 0.948, 0.952, 0.948, 0.946, 0.948, 0.950,
            0.945, 0.942, 0.940, 0.938, 0.939, 0.938, 0.936, 0.934, 0.938, 0.942, 0.940, 0.938,
            0.936, 0.934, 0.932, 0.930, 0.926, 0.922, 0.915, 0.912, 0.909, 0.903, 0.899, 0.910,
            0.922, 0.920, 0.917, 0.909, 0.901, 0.897, 0.893, 0.891, 0.889, 0.888, 0.884, 0.880,
            0.876, 0.872, 0.874, 0.875, 0.876, 0.878, 0.879, 0.880, 0.875, 0.868, 0.866, 0.864,
            0.860, 0.855, 0.852, 0.849, 0.846, 0.843, 0.848, 0.851, 0.849, 0.847, 0.843, 0.839,
            0.836, 0.833, 0.831, 0.829, 0.825, 0.820, 0.817, 0.814, 0.815, 0.816, 0.820, 0.824,
            0.826, 0.827, 0.823, 0.818, 0.821, 0.824, 0.826, 0.827, 0.825, 0.822, 0.8164, 0.8076,
            0.8076, 0.796, 0.8164, 0.8164, 0.8076, 0.8068, 0.825, 0.825, 0.790, 0.7707, 0.789,
            0.798, 0.790, 0.770, 0.760, 0.745, 0.730, 0.723]
G_G4_X = [232, 238, 244, 250, 256, 262, 268, 274, 280, 286, 292, 298, 304, 310, 316, 322, 328,
          334, 340, 346, 352, 358, 364, 370, 376, 382, 388, 394, 400, 406, 412, 418, 424, 430,
          436, 442, 448, 454, 460, 466, 472, 478, 484, 490, 496, 502, 508, 514, 520, 526, 532,
          538, 544, 550, 555, 560, 565, 570, 575, 580, 586, 592, 598, 604, 610, 615, 620, 626,
          632, 638, 644, 650, 656, 662, 668, 673, 678, 684, 690, 696, 702, 708, 714, 720, 726,
          732, 737, 741, 743.1, 744.2, 746.9, 749.3, 751.6, 753.8, 755.6, 757.3, 759, 760, 763,
          765, 768]
G_G4_Y = [1.000, 0.999, 0.997, 0.995, 0.994, 0.992, 0.990, 0.988, 0.987, 0.988, 0.990, 0.986,
          0.986, 0.983, 0.979, 0.978, 0.979, 0.980, 0.979, 0.977, 0.968, 0.960, 0.957, 0.957,
          0.958, 0.960, 0.961, 0.955, 0.946, 0.943, 0.943, 0.945, 0.947, 0.948, 0.948, 0.947,
          0.946, 0.947, 0.948, 0.950, 0.951, 0.952, 0.947, 0.940, 0.937, 0.937, 0.939, 0.941,
          0.940, 0.936, 0.930, 0.922, 0.915, 0.912, 0.917, 0.922, 0.919, 0.909, 0.898, 0.890,
          0.884, 0.880, 0.877, 0.876, 0.876, 0.878, 0.881, 0.876, 0.870, 0.864, 0.858, 0.852,
          0.850, 0.850, 0.851, 0.852, 0.851, 0.845, 0.838, 0.832, 0.830, 0.832, 0.835, 0.836,
          0.836, 0.833, 0.828, 0.824, 0.8208, 0.820, 0.819, 0.815, 0.811, 0.8038, 0.7953, 0.788,
          0.780, 0.774, 0.762, 0.755, 0.748]
G_B6_X = [235, 241, 247, 253, 259, 265, 271, 277, 283, 289, 295, 300, 306, 312, 318, 324, 330,
          336, 342, 348, 354, 360, 366, 372, 378, 384, 390, 395, 401, 407, 413, 419, 425, 431,
          437, 443, 449, 455, 461, 467, 473, 479, 485, 491, 497, 503, 509, 515, 521, 527, 533,
          539, 545, 551, 556, 562, 567, 572, 577, 582, 588, 594, 600, 606, 612, 617, 622, 628,
          634, 640, 646, 652, 658, 664, 670, 675, 680, 686, 692, 698, 704, 710, 716, 722, 728,
          734, 739, 743.8, 746.9, 748, 751.1, 752.1, 753, 754.9, 756.3, 757.3, 759.4, 760, 763,
          766, 768]
G_B6_Y = [1.001, 1.000, 0.998, 0.997, 0.995, 0.993, 0.991, 0.989, 0.989, 0.991, 0.992, 0.989,
          0.989, 0.985, 0.981, 0.980, 0.981, 0.982, 0.982, 0.978, 0.968, 0.961, 0.959, 0.959,
          0.960, 0.962, 0.964, 0.958, 0.949, 0.946, 0.946, 0.948, 0.950, 0.951, 0.951, 0.950,
          0.949, 0.950, 0.951, 0.953, 0.954, 0.955, 0.950, 0.943, 0.940, 0.940, 0.942, 0.944,
          0.943, 0.940, 0.933, 0.925, 0.918, 0.915, 0.919, 0.924, 0.922, 0.912, 0.900, 0.893,
          0.887, 0.883, 0.880, 0.879, 0.879, 0.882, 0.884, 0.879, 0.873, 0.867, 0.861, 0.856,
          0.854, 0.854, 0.855, 0.856, 0.855, 0.849, 0.842, 0.836, 0.835, 0.837, 0.839, 0.841,
          0.840, 0.837, 0.831, 0.8208, 0.8215, 0.8164, 0.816, 0.8164, 0.8093, 0.809, 0.8008,
          0.7938, 0.791, 0.7862, 0.775, 0.762, 0.754]
G_R8_X = [238, 244, 250, 257, 263, 270, 276, 282, 288, 294, 301, 307, 313, 320, 326, 333, 339,
          345, 351, 358, 364, 371, 377, 383, 390, 396, 402, 408, 415, 421, 428, 434, 440, 447,
          453, 459, 466, 472, 478, 485, 491, 497, 504, 510, 516, 523, 529, 535, 542, 546, 551,
          556, 561, 567, 572, 576, 581, 586, 592, 599, 605, 611, 616, 620, 625, 630, 637, 643,
          650, 656, 662, 668, 673, 678, 683, 687, 693, 700, 706, 713, 718, 722, 727, 732, 737,
          742, 745, 748, 750.3, 752.4, 754.5, 756.9, 760, 763, 766]
G_R8_Y = [1.000, 0.999, 0.997, 0.996, 0.994, 0.991, 0.990, 0.990, 0.992, 0.990, 0.986, 0.990,
          0.985, 0.980, 0.981, 0.982, 0.982, 0.982, 0.973, 0.963, 0.960, 0.959, 0.960, 0.961,
          0.963, 0.955, 0.948, 0.946, 0.946, 0.948, 0.950, 0.950, 0.950, 0.949, 0.948, 0.950,
          0.952, 0.953, 0.954, 0.948, 0.942, 0.940, 0.940, 0.942, 0.944, 0.941, 0.938, 0.930,
          0.922, 0.918, 0.917, 0.922, 0.926, 0.921, 0.910, 0.901, 0.894, 0.888, 0.884, 0.880,
          0.879, 0.878, 0.881, 0.884, 0.880, 0.876, 0.870, 0.864, 0.858, 0.853, 0.853, 0.853,
          0.854, 0.855, 0.850, 0.845, 0.839, 0.833, 0.834, 0.837, 0.838, 0.839, 0.838, 0.837,
          0.833, 0.827, 0.824, 0.8203, 0.8157, 0.811, 0.8045, 0.7953, 0.787, 0.778, 0.767]

H_G4_X = [235, 238, 241, 244, 247, 250, 253, 257, 261, 264, 267, 271, 276, 279, 283, 287, 290,
          295, 300, 305, 308, 310, 314, 317, 320, 323, 327, 331, 336, 340, 343, 346, 351, 353,
          357, 360, 365, 369, 372, 377, 384, 387, 389, 394, 397, 401, 406, 410, 414, 418, 422,
          428, 431, 435, 438, 443, 447, 452, 455, 462, 467, 471, 475, 478, 481, 484, 488, 493,
          497, 500, 505, 508, 512, 517, 522, 527, 530, 532, 536, 540, 542, 545, 549, 551, 555,
          561, 565, 570, 573, 575, 578, 580, 585, 590, 592, 597, 600, 603, 607, 612, 617, 621,
          626, 631, 635, 638, 641, 644, 650, 653, 657, 662, 665, 672, 677, 681, 685, 690, 693,
          698, 701, 706, 710, 716, 720, 725, 729, 734, 738, 742, 747, 752, 755, 758, 761, 764,
          767, 769]
H_G4_Y = [0.0055, -0.007, -0.004, 0.0, 0.0085, 0.002, -0.004, 0.011, -0.003, 0.008, -0.003,
          -0.001, -0.002, 0.004, 0.004, -0.011, 0.005, 0.004, 0.003, 0.008, -0.004, -0.010,
          -0.016, 0.004, 0.011, -0.004, 0.004, 0.002, 0.001, 0.001, -0.013, 0.006, -0.012, -0.004,
          0.008, -0.006, 0.006, -0.002, 0.010, 0.004, 0.003, -0.004, -0.012, -0.006, 0.010,
          -0.004, 0.007, 0.006, -0.002, -0.007, 0.007, 0.004, -0.004, 0.009, -0.004, 0.004,
          -0.002, 0.006, 0.006, 0.003, 0.002, 0.001, 0.003, -0.006, 0.003, -0.006, 0.004, 0.006,
          0.004, -0.002, 0.004, 0.003, 0.002, 0.001, -0.001, -0.001, 0.003, -0.010, -0.002,
          0.005, -0.018, -0.003, -0.018, -0.019, 0.009, 0.006, 0.008, -0.006, -0.022, 0.007,
          -0.007, -0.016, -0.005, 0.009, -0.006, -0.007, 0.007, -0.004, 0.0, -0.005, 0.004, 0.001,
          0.001, 0.0, 0.002, -0.014, -0.004, -0.014, 0.008, -0.008, 0.004, -0.010, 0.004, 0.001,
          0.0, -0.014, -0.004, 0.004, -0.007, -0.011, -0.017, -0.007, 0.008, 0.008, 0.005, 0.002,
          0.001, -0.017, 0.006, -0.021, -0.024, 0.021, -0.009, 0.0, 0.003, -0.034, 0.001, -0.028]
H_B6_X = [235, 238, 241, 244, 247, 250, 253, 257, 261, 264, 267, 271, 276, 279, 283, 287, 290,
          295, 300, 305, 310, 312, 314, 317, 320, 323, 327, 331, 336, 340, 343, 346, 351, 353,
          357, 360, 365, 369, 372, 377, 384, 387, 390, 394, 397, 401, 406, 410, 414, 418, 422,
          428, 431, 435, 438, 443, 447, 452, 455, 462, 467, 471, 475, 478, 481, 484, 488, 493,
          497, 500, 505, 508, 512, 517, 522, 527, 530, 532, 536, 540, 542, 546, 549, 551, 555,
          561, 565, 570, 573, 575, 578, 580, 585, 590, 592, 597, 600, 603, 607, 612, 617, 621,
          626, 631, 635, 638, 641, 644, 650, 653, 657, 662, 665, 672, 677, 681, 685, 690, 693,
          698, 701, 706, 710, 716, 720, 725, 729, 734, 738, 742, 747, 752, 755, 758, 761, 764,
          767, 769]
H_B6_Y = [0.003, -0.009, -0.006, -0.002, 0.007, 0.001, -0.005, 0.010, -0.004, 0.007, -0.004,
          -0.002, -0.003, 0.003, 0.003, -0.012, 0.004, 0.003, 0.002, 0.006, -0.011, 0.013, -0.018,
          0.003, 0.009, -0.005, 0.003, 0.001, 0.0, 0.0, -0.015, 0.004, -0.014, -0.005, 0.006,
          -0.007, 0.004, -0.003, 0.009, 0.003, 0.002, -0.005, -0.0135, -0.007, 0.008, -0.005,
          0.006, 0.005, -0.003, -0.008, 0.006, 0.003, -0.005, 0.008, -0.005, 0.003, -0.003, 0.005,
          0.005, 0.002, 0.001, 0.0, 0.002, -0.007, 0.002, -0.007, 0.003, 0.005, 0.003, -0.003,
          0.003, 0.002, 0.001, 0.0, -0.002, -0.002, 0.001, -0.011, -0.003, 0.003, -0.019, -0.018,
          -0.019, -0.021, 0.009, 0.005, 0.007, -0.007, -0.024, 0.005, -0.008, -0.017, -0.006,
          0.007, -0.007, -0.008, 0.005, -0.005, -0.001, -0.006, 0.003, 0.0, 0.0, -0.001, 0.001,
          -0.015, -0.005, -0.015, 0.006, -0.009, 0.003, -0.011, 0.003, 0.0, -0.001, -0.015, -0.005,
          -0.020, -0.008, -0.012, -0.018, -0.008, 0.007, 0.007, 0.004, 0.001, 0.0, -0.018, 0.004,
          -0.022, -0.026, 0.020, -0.038, -0.001, 0.0, -0.040, -0.006, -0.028]
H_R8_X = [235, 240, 243, 247, 249, 253, 257, 260, 264, 266, 271, 276, 280, 283, 287, 290, 295,
          300, 304, 307, 310, 314, 317, 319, 323, 327, 331, 336, 340, 343, 347, 351, 353, 357,
          360, 365, 369, 372, 377, 384, 387, 389, 394, 397, 401, 406, 411, 416, 418, 422, 428,
          431, 434, 438, 443, 447, 452, 457, 462, 467, 471, 476, 481, 484, 487, 491, 493, 497,
          500, 504, 508, 512, 517, 522, 527, 529, 532, 536, 539, 542, 545, 549, 551, 555, 561,
          566, 570, 573, 578, 580, 585, 589, 592, 597, 602, 607, 612, 617, 621, 626, 631, 636,
          641, 644, 648, 653, 657, 662, 667, 672, 677, 681, 685, 689, 693, 698, 701, 706, 711,
          716, 720, 725, 729, 734, 739, 742, 747, 752, 755, 758, 760, 764, 766, 769]
H_R8_Y = [-0.0088, -0.0117, -0.0052, -0.0009, 0.0013, -0.0066, 0.0107, -0.0055, 0.0071, -0.0052,
          -0.003, -0.0041, -0.0081, 0.002, -0.0138, 0.0042, 0.0035, 0.0013, 0.0071, -0.0066,
          -0.016, -0.0196, 0.002, 0.0099, -0.0066, 0.0013, 0.0006, -0.0001, -0.0001, -0.0167,
          0.0013, -0.0153, -0.0066, 0.0035, -0.0088, 0.0035, -0.0037, 0.0042, 0.0035, 0.002,
          -0.0066, -0.0153, -0.0081, 0.0063, -0.0066, 0.0063, -0.0037, 0.0049, -0.0095, 0.0063,
          0.0035, -0.0059, 0.0085, -0.0066, 0.0035, -0.0037, 0.0063, 0.0049, 0.0027, 0.0013,
          -0.0001, -0.0074, 0.002, -0.0081, 0.0035, -0.0066, -0.0088, 0.0035, -0.0037, 0.002,
          0.0027, 0.0013, -0.0001, -0.0016, -0.0023, -0.0066, -0.0124, -0.0037, -0.0138, -0.0211,
          -0.0045, -0.0211, -0.0225, 0.0049, 0.0042, 0.0035, -0.0081, -0.0254, -0.0095, -0.0182,
          -0.0074, -0.0153, -0.0081, -0.0095, -0.0066, -0.0023, -0.0074, 0.0013, -0.0001, -0.0009,
          -0.0016, -0.0167, -0.0066, -0.0167, -0.0066, -0.011, 0.0027, -0.0124, -0.0001, -0.0009,
          -0.0016, -0.0167, -0.0066, -0.0218, -0.0095, -0.0131, -0.0196, -0.0095, -0.0009, 0.0071,
          0.0035, -0.0001, -0.0009, -0.0196, -0.0066, -0.024, -0.0275, 0.0204, -0.011, -0.0016,
          -0.0492, -0.0528, -0.0283, -0.0438]

# start points, thresholds, RUL end points
START = {"a": (52.9, 1.709), "c": (52.9, 1.776), "e": (233, 0.999), "g": (230, 0.998)}
THRESH_MAIN = {"a": 1.40, "c": 1.44, "e": 0.79, "g": 0.80}
THRESH_INSET = {"a": 1.40, "c": 1.44, "e": 0.79, "g": 0.79}
EOL = {"a": 108.6, "c": 148.0, "e": 695.0, "g": 746.0}
EOL_TOP = {"a": 1.378, "c": 1.44, "e": 0.79, "g": 0.80}
RUL_Y = {"a": 1.1585, "c": 1.3486, "e": 0.7128, "g": 0.7103}
RUL_TXT = {"a": (84.2, 1.214), "c": (103.6, 1.3786), "e": (488, 0.750), "g": (491, 0.746)}
ELLIPSE = {"a": (108.6, 1.395, 11.8, 0.067), "c": (146.6, 1.4502, 11.5, 0.040),
           "e": (695, 0.7966, 55, 0.0304), "g": (741, 0.800, 51.6, 0.0329)}
ZOOM_ARROW = {"a": (109.9, 1.485, 113.7, 1.696), "c": (148.0, 1.505, 140.7, 1.691),
              "e": (690.5, 0.841, 665, 0.982), "g": (739, 0.847, 698.7, 0.9876)}
PANEL_LABEL = {"a": (12.2, 1.154), "b": (62.2, -0.0868), "c": (12.3, 1.358), "d": (62.2, -0.0443),
               "e": (60, 0.716), "f": (276.5, -0.0325), "g": (60, 0.715), "h": (275.8, -0.0517)}

# axis ticks
TICK_A_X = [0, 30, 60, 90, 120, 150]
TICK_A_Y = [1.1, 1.3, 1.5, 1.7, 1.9, 2.1]
TICK_B_X = [60, 90, 120, 150]
TICK_B_Y = [-0.08, -0.04, 0, 0.04, 0.08, 0.12]
TICK_C_Y = [1.3, 1.4, 1.5, 1.6, 1.7, 1.8, 1.9]
TICK_D_Y = [-0.06, -0.03, 0, 0.03, 0.06, 0.09]
TICK_E_X = [0, 200, 400, 600, 800]
TICK_E_Y = [0.7, 0.8, 0.9, 1.0, 1.1]
TICK_F_X = [400, 600, 800]
TICK_F_Y = [-0.04, -0.02, 0, 0.02, 0.04]
TICK_H_Y = [-0.06, -0.04, -0.02, 0, 0.02]
TICK_IA_X = [104, 109, 114]
TICK_IA_Y = [1.36, 1.41, 1.46]
TICK_IC_X = [144, 150, 156]
TICK_IC_Y = [1.43, 1.45]
TICK_IE_X = [690, 705, 720]
TICK_IG_X = [740, 750, 760]
TICK_IEG_Y = [0.78, 0.80, 0.82]

# legend entries: (name, colour, left edge of the entry in px)
LEGEND_ITEMS = [("Real Value", C_REAL, 42), ("4-step ahead", C_G4, 336),
                ("6-step ahead", C_B6, 646), ("8-step ahead", C_R8, 956), ("Start", C_STAR, 1262)]

for xs, ys in [(A_REAL_X, A_REAL_Y), (A_G4_X, A_G4_Y), (A_B6_X, A_B6_Y), (A_R8_X, A_R8_Y),
               (B_G4_X, B_G4_Y), (B_B6_X, B_B6_Y), (B_R8_X, B_R8_Y),
               (C_REAL_X, C_REAL_Y), (C_G4_X, C_G4_Y), (C_B6_X, C_B6_Y), (C_R8_X, C_R8_Y),
               (D_G4_X, D_G4_Y), (D_B6_X, D_B6_Y), (D_R8_X, D_R8_Y),
               (E_REAL_X, E_REAL_Y), (E_G4_X, E_G4_Y), (E_B6_X, E_B6_Y), (E_R8_X, E_R8_Y),
               (F_G4_X, F_G4_Y), (F_B6_X, F_B6_Y), (F_R8_X, F_R8_Y),
               (G_REAL_X, G_REAL_Y), (G_G4_X, G_G4_Y), (G_B6_X, G_B6_Y), (G_R8_X, G_R8_Y),
               (H_G4_X, H_G4_Y), (H_B6_X, H_B6_Y), (H_R8_X, H_R8_Y)]:
    assert len(xs) == len(ys), (len(xs), len(ys), xs[:3])


def fmt(v):
    s = ("%.2f" % v).rstrip("0").rstrip(".")
    return "0" if s in ("-0", "") else s


fig = go.Figure()


def axn(i):
    return "" if i == 1 else str(i)


LEG_ID = {name: ("legend" if i == 0 else "legend%d" % (i + 1))
          for i, (name, _, _) in enumerate(LEGEND_ITEMS)}


def line(x, y, color, ax, name="", legend=False, width=3.5):
    kw = {}
    if legend:
        kw["legend"] = LEG_ID[name]
    fig.add_trace(go.Scatter(x=x, y=y, mode="lines", line=dict(color=color, width=width),
                             xaxis="x" + axn(ax), yaxis="y" + axn(ax), name=name,
                             showlegend=legend, hoverinfo="skip", **kw))


def star(pt, ax, legend=False):
    kw = {"legend": LEG_ID["Start"]} if legend else {}
    fig.add_trace(go.Scatter(x=[pt[0]], y=[pt[1]], mode="markers", name="Start",
                             marker=dict(symbol="star", size=24, color=C_STAR,
                                         line=dict(width=0)),
                             xaxis="x" + axn(ax), yaxis="y" + axn(ax), showlegend=legend,
                             hoverinfo="skip", cliponaxis=False, **kw))


shapes = []
annotations = []

cap_panels = [
    ("a", 1, 9, A_REAL_X, A_REAL_Y, A_G4_X, A_G4_Y, A_B6_X, A_B6_Y, A_R8_X, A_R8_Y),
    ("c", 3, 10, C_REAL_X, C_REAL_Y, C_G4_X, C_G4_Y, C_B6_X, C_B6_Y, C_R8_X, C_R8_Y),
    ("e", 5, 11, E_REAL_X, E_REAL_Y, E_G4_X, E_G4_Y, E_B6_X, E_B6_Y, E_R8_X, E_R8_Y),
    ("g", 7, 12, G_REAL_X, G_REAL_Y, G_G4_X, G_G4_Y, G_B6_X, G_B6_Y, G_R8_X, G_R8_Y),
]
YMIN = {"a": 1.047, "c": 1.298, "e": 0.668, "g": 0.669}
DASH_V = "13px,7px"
DASH_THR = "18px,11px"
DASH_ZERO = "20px,11px"

for k, m, ins, rx, ry, gx, gy, bx, by, qx, qy in cap_panels:
    first = (k == "a")
    line(rx, ry, C_REAL, m, "Real Value", first)
    line(gx, gy, C_G4, m, "4-step ahead", first)
    line(bx, by, C_B6, m, "6-step ahead", first)
    line(qx, qy, C_R8, m, "8-step ahead", first)
    star(START[k], m, first)
    for x_, y_, c_ in [(rx, ry, C_REAL), (gx, gy, C_G4), (bx, by, C_B6), (qx, qy, C_R8)]:
        line(x_, y_, c_, ins, width=3.2)
    xr, yr = "x" + axn(m), "y" + axn(m)
    shapes.append(dict(type="line", xref=xr + " domain", yref=yr, x0=0, x1=1,
                       y0=THRESH_MAIN[k], y1=THRESH_MAIN[k], layer="above",
                       line=dict(color=C_THR, width=3.5, dash=DASH_THR)))
    shapes.append(dict(type="line", xref="x" + axn(ins) + " domain", yref="y" + axn(ins),
                       x0=0, x1=1, y0=THRESH_INSET[k], y1=THRESH_INSET[k], layer="above",
                       line=dict(color=C_THR, width=4, dash="20px,11px")))
    shapes.append(dict(type="line", xref=xr, yref=yr, x0=START[k][0], x1=START[k][0],
                       y0=START[k][1], y1=YMIN[k], line=dict(color="black", width=3, dash=DASH_V)))
    shapes.append(dict(type="line", xref=xr, yref=yr, x0=EOL[k], x1=EOL[k],
                       y0=EOL_TOP[k], y1=YMIN[k], line=dict(color="black", width=3, dash=DASH_V)))
    cx, cy, rxx, ryy = ELLIPSE[k]
    shapes.append(dict(type="circle", xref=xr, yref=yr, x0=cx - rxx, x1=cx + rxx,
                       y0=cy - ryy, y1=cy + ryy, line=dict(color=C_ELL, width=3.5)))
    tx, ty, hx, hy = ZOOM_ARROW[k]
    annotations.append(dict(x=hx, y=hy, ax=tx, ay=ty, xref=xr, yref=yr, axref=xr, ayref=yr,
                            text="", showarrow=True, arrowhead=2, arrowsize=1.1,
                            arrowwidth=3, arrowcolor="black"))
    annotations.append(dict(x=EOL[k], y=RUL_Y[k], ax=START[k][0], ay=RUL_Y[k], xref=xr, yref=yr,
                            axref=xr, ayref=yr, text="", showarrow=True, arrowside="end+start",
                            arrowhead=2, startarrowhead=2, arrowsize=1.0, startarrowsize=1.0,
                            arrowwidth=3, arrowcolor="black"))
    annotations.append(dict(x=RUL_TXT[k][0], y=RUL_TXT[k][1], xref=xr, yref=yr, text="RUL",
                            showarrow=False, font=dict(family=FONT, size=34, color="black")))

err_panels = [
    ("b", 2, B_G4_X, B_G4_Y, B_B6_X, B_B6_Y, B_R8_X, B_R8_Y, None),
    ("d", 4, D_G4_X, D_G4_Y, D_B6_X, D_B6_Y, D_R8_X, D_R8_Y, None),
    ("f", 6, F_G4_X, F_G4_Y, F_B6_X, F_B6_Y, F_R8_X, F_R8_Y, (240, 400)),
    ("h", 8, H_G4_X, H_G4_Y, H_B6_X, H_B6_Y, H_R8_X, H_R8_Y, (232, 389)),
]
for k, m, gx, gy, bx, by, qx, qy, zspan in err_panels:
    xr, yr = "x" + axn(m), "y" + axn(m)
    line(gx, gy, C_G4, m, width=3.2)
    line(bx, by, C_B6, m, width=3.2)
    line(qx, qy, C_R8, m, width=3.2)
    if zspan is None:
        shapes.append(dict(type="line", xref=xr + " domain", yref=yr, x0=0.005, x1=1, y0=0, y1=0,
                           layer="above", line=dict(color="black", width=3.5, dash=DASH_ZERO)))
    else:
        shapes.append(dict(type="line", xref=xr, yref=yr, x0=zspan[0], x1=zspan[1], y0=0, y1=0,
                           layer="above", line=dict(color="black", width=3.5, dash=DASH_ZERO)))

for k, (lx, ly) in PANEL_LABEL.items():
    m = {"a": 1, "b": 2, "c": 3, "d": 4, "e": 5, "f": 6, "g": 7, "h": 8}[k]
    annotations.append(dict(x=lx, y=ly, xref="x" + axn(m), yref="y" + axn(m), text="(%s)" % k,
                            showarrow=False, font=dict(family=FONT, size=38, color="black")))

H = 2176.0
W = 1400.0


def py(top, bot):
    return [1 - bot / H, 1 - top / H]


def px(l, r):
    return [l / W, r / W]


def axis(domain, rng, tv, size=34, lw=4, tl=9, title=None, standoff=5, anchor=None, tls=0):
    d = dict(domain=domain, range=rng, tickvals=tv, ticktext=[fmt(v) for v in tv],
             showline=True, linewidth=lw, linecolor=C_AX, mirror="ticks", ticks="inside",
             ticklen=tl, tickwidth=3 if lw >= 4 else 2.5, tickcolor=C_AX, showgrid=False,
             zeroline=False, automargin=False, anchor=anchor, ticklabelstandoff=tls,
             ticklabeloverflow="allow",
             tickfont=dict(family=FONT, size=size, color="black"))
    if title:
        d["title"] = dict(text=title, font=dict(family=FONT, size=37, color="black"),
                          standoff=standoff)
    return d


XL1 = px(104, 686)
XL2 = px(96, 691)
XR = px(845, 1388)
Y1 = py(17, 422)
Y2 = py(547, 955)
Y3 = py(1081, 1476)
Y4 = py(1615, 2023)

XT = dict(tls=-4, standoff=8)
YT = dict(tls=3, standoff=5)

lay = {}
lay["xaxis"] = axis(XL1, [0, 175], TICK_A_X, title="Cycle (B0006)", anchor="y", **XT)
lay["yaxis"] = axis(Y1, [1.047, 2.1005], TICK_A_Y, title="Capacity (Ah)", anchor="x", **YT)
lay["xaxis2"] = axis(XR, [53, 175], TICK_B_X, title="Cycle (B0006)", anchor="y2", **XT)
lay["yaxis2"] = axis(Y1, [-0.111, 0.150], TICK_B_Y, title="Error (Ah)", anchor="x2", **YT)
lay["xaxis3"] = axis(XL1, [0, 175], TICK_A_X, title="Cycle (B0007)", anchor="y3", **XT)
lay["yaxis3"] = axis(Y2, [1.298, 1.931], TICK_C_Y, title="Capacity (Ah)", anchor="x3", **YT)
lay["xaxis4"] = axis(XR, [53, 175], TICK_B_X, title="Cycle (B0007)", anchor="y4", **XT)
lay["yaxis4"] = axis(Y2, [-0.0602, 0.1105], TICK_D_Y, title="Error (Ah)", anchor="x4", **YT)
lay["xaxis5"] = axis(XL2, [0, 833], TICK_E_X, title="Cycle (CS-37)", anchor="y5", **XT)
lay["yaxis5"] = axis(Y3, [0.668, 1.172], TICK_E_Y, title="Capacity (Ah)", anchor="x5", **YT)
lay["xaxis6"] = axis(XR, [238, 824], TICK_F_X, title="Cycle (CS-37)", anchor="y6", **XT)
lay["yaxis6"] = axis(Y3, [-0.0402, 0.0402], TICK_F_Y, title="Error (Ah)", anchor="x6", **YT)
lay["xaxis7"] = axis(XL2, [0, 833], TICK_E_X, title="Cycle (CS-38)", anchor="y7", **XT)
lay["yaxis7"] = axis(Y4, [0.669, 1.176], TICK_E_Y, title="Capacity (Ah)", anchor="x7", **YT)
lay["xaxis8"] = axis(XR, [230, 817], TICK_F_X, title="Cycle (CS-38)", anchor="y8", **XT)
lay["yaxis8"] = axis(Y4, [-0.0602, 0.028], TICK_H_Y, title="Error (Ah)", anchor="x8", **YT)
# insets
INS = dict(size=24, lw=3, tl=6)
lay["xaxis9"] = axis(px(375, 654), [104, 114], TICK_IA_X, anchor="y9", tls=2, **INS)
lay["yaxis9"] = axis(py(45, 149), [1.3598, 1.4602], TICK_IA_Y, anchor="x9", tls=4, **INS)
lay["xaxis10"] = axis(px(378, 665), [144, 158], TICK_IC_X, anchor="y10", tls=2, **INS)
lay["yaxis10"] = axis(py(569, 676), [1.4298, 1.4605], TICK_IC_Y, anchor="x10", tls=4, **INS)
lay["xaxis11"] = axis(px(378, 659), [690, 720], TICK_IE_X, anchor="y11", tls=2, **INS)
lay["yaxis11"] = axis(py(1107, 1211), [0.7698, 0.8213], TICK_IEG_Y, anchor="x11", tls=4, **INS)
lay["xaxis12"] = axis(px(397, 659), [740, 760], TICK_IG_X, anchor="y12", tls=2, **INS)
lay["yaxis12"] = axis(py(1642, 1750), [0.7706, 0.8208], TICK_IEG_Y, anchor="x12", tls=4, **INS)

for i, (name, col, left) in enumerate(LEGEND_ITEMS):
    key = LEG_ID[name]
    lay[key] = dict(x=left / W, xanchor="left", y=1 - 2152 / H, yanchor="middle",
                    orientation="h", bgcolor="rgba(0,0,0,0)", borderwidth=0,
                    itemwidth=30 if name == "Start" else 90,
                    font=dict(family=FONT, size=33, color="black"))

fig.update_layout(
    width=1400, height=2176,
    margin=dict(l=0, r=0, t=0, b=0),
    paper_bgcolor="white", plot_bgcolor="white",
    font=dict(family=FONT, color="black"),
    shapes=shapes, annotations=annotations,
    hovermode=False,
    **lay,
)

fig.write_html("out.html", config={"displayModeBar": False},
               post_script="document.body.style.margin='0';document.body.style.overflow='hidden';")
